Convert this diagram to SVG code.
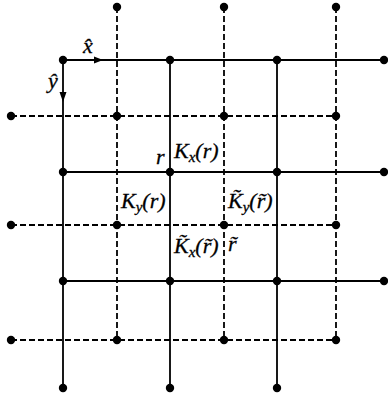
<svg xmlns="http://www.w3.org/2000/svg" width="388" height="400" viewBox="0 0 388 400">
<style>
.s{stroke:#000;stroke-width:1.8;fill:none}
.d{stroke:#000;stroke-width:1.8;fill:none;stroke-dasharray:6 3}
.t{font-family:"Liberation Serif","Times New Roman",serif;font-style:italic;font-size:22px;fill:#000;stroke:#000;stroke-width:0.3}
.sub{font-size:15px}
</style>
<defs>
<circle id="dot" r="4.2" fill="#000"/>
</defs>
<rect width="388" height="400" fill="#fff"/>
<g id="connectors">
<path class="s" d="M63 60V388M170 60V388M277 60V388M63 60H384M63 172H384M63 281H384"/>
<path class="d" d="M117 7V340M224 7V340M336 7V340M11 116H336M11 225H336M11 340H336"/>
<polygon points="94,56.5 103,60 94,63.5" fill="#000"/>
<polygon points="59.5,92 63,102 66.5,92" fill="#000"/>
</g>
<g id="lattice-nodes">
<use href="#dot" x="63" y="60"/><use href="#dot" x="170" y="60"/><use href="#dot" x="277" y="60"/><use href="#dot" x="384" y="60"/>
<use href="#dot" x="63" y="172"/><use href="#dot" x="170" y="172"/><use href="#dot" x="277" y="172"/><use href="#dot" x="384" y="172"/>
<use href="#dot" x="63" y="281"/><use href="#dot" x="170" y="281"/><use href="#dot" x="277" y="281"/><use href="#dot" x="384" y="281"/>
<use href="#dot" x="63" y="388"/><use href="#dot" x="170" y="388"/><use href="#dot" x="277" y="388"/>
</g>
<g id="dual-nodes">
<use href="#dot" x="117" y="7"/><use href="#dot" x="224" y="7"/><use href="#dot" x="336" y="7"/>
<use href="#dot" x="11" y="116"/><use href="#dot" x="117" y="116"/><use href="#dot" x="224" y="116"/><use href="#dot" x="336" y="116"/>
<use href="#dot" x="11" y="225"/><use href="#dot" x="117" y="225"/><use href="#dot" x="224" y="225"/><use href="#dot" x="336" y="225"/>
<use href="#dot" x="11" y="340"/><use href="#dot" x="117" y="340"/><use href="#dot" x="224" y="340"/><use href="#dot" x="336" y="340"/>
</g>
<g id="labels">
<text class="t" x="83" y="53">x̂</text>
<text class="t" x="48" y="88">ŷ</text>
<text class="t" x="156" y="164">r</text>
<text class="t" x="174" y="158">K<tspan class="sub" dy="4">x</tspan><tspan dy="-4">(r)</tspan></text>
<text class="t" x="121" y="208">K<tspan class="sub" dy="4">y</tspan><tspan dy="-4">(r)</tspan></text>
<text class="t" x="228" y="208">K̃<tspan class="sub" dy="4">y</tspan><tspan dy="-4">(r̃)</tspan></text>
<text class="t" x="174" y="253">K̃<tspan class="sub" dy="4">x</tspan><tspan dy="-4">(r̃)</tspan></text>
<text class="t" x="228" y="251">r̃</text>
</g>
</svg>
